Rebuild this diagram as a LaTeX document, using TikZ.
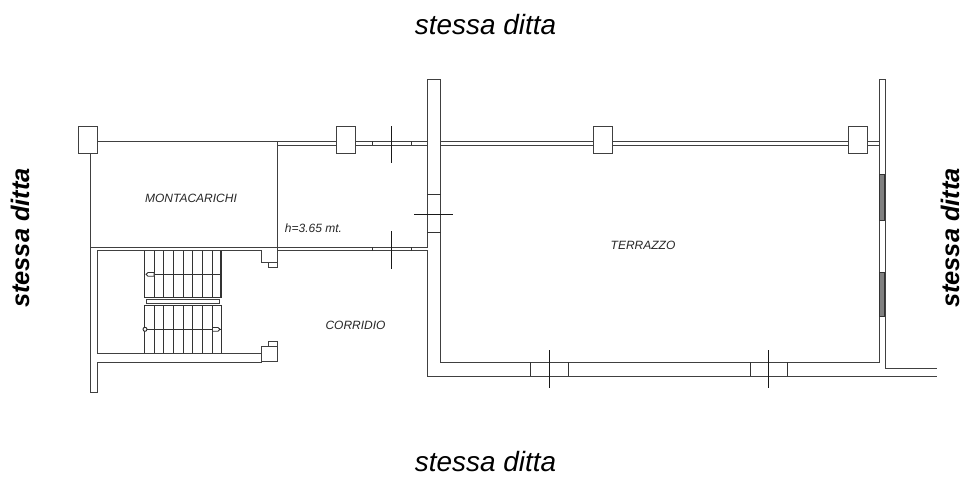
\documentclass[tikz,border=0pt]{standalone}
\usepackage{fontspec}
\setmainfont{Liberation Sans}
\begin{document}
\begin{tikzpicture}[x=1pt,y=-1pt,
  wall/.style={draw=black!75,line width=1pt,line cap=rect},
  thin wall/.style={draw=black!80,line width=0.9pt},
  cross/.style={draw=black!90,line width=1pt},
  pillar/.style={draw=black!75,line width=1pt,fill=white},
  glass/.style={draw=black!80,line width=0.9pt,fill=black!50},
  small/.style={font=\fontsize{12}{14}\selectfont\itshape,text=black!85,inner sep=0pt},
  big/.style={font=\fontsize{27.9}{32}\selectfont\itshape,text=black,inner sep=0pt},
  side/.style={font=\fontsize{25.4}{30}\selectfont\bfseries\itshape,text=black,inner sep=0pt,rotate=90}]
\useasboundingbox (0,0) rectangle (965,477);
% top double walls
\draw[wall] (90,141) -- (277,141);
\draw[wall] (277,141) -- (427,141) (277,145) -- (427,145);
\draw[wall] (441,141) -- (879,141) (441,145) -- (879,145);
% lift shaft
\draw[wall] (90,153) -- (90,392) -- (97.5,392) -- (97.5,362) -- (261,362);
\draw[wall] (277,141) -- (277,267);
\draw[wall] (90,247) -- (427,247);
\draw[wall] (97.5,353) -- (97.5,250.7) -- (261,250.7);
\draw[wall] (277,250.7) -- (427,250.7);
% upper stub
\draw[wall] (261,250.7) -- (261,262) -- (268.5,262) -- (268.5,267) -- (277,267);
% lower stub
\draw[wall] (97.5,353) -- (261,353);
\draw[wall] (261,361.5) -- (261,346) -- (268.5,346) -- (268.5,341) -- (277,341) -- (277,361.5) -- cycle;
\draw[wall] (268.5,346) -- (277,346);
\draw[wall] (261,262) -- (277,262);
% stairs
\foreach \s in {144.3,154,163.7,173.7,183.3,192.7,202.3,212,221.7}{
  \draw[thin wall] (\s,250.7) -- (\s,297.5);
  \draw[thin wall] (\s,305) -- (\s,353);
}
\draw[thin wall] (220.2,250.7) -- (220.2,297.5);
\draw[thin wall] (145,297.5) -- (221.7,297.5) (145,305) -- (221.7,305);
\draw[wall,fill=white] (146,299.2) rectangle (219.6,303.4);
\draw[thin wall] (146,274.3) -- (221,274.3);
\draw[thin wall,fill=white] (146,274.3) -- (148,272.5) -- (154,272.5) -- (154,276.2) -- (148,276.2) -- cycle;
\draw[thin wall] (145,329.3) -- (221,329.3);
\draw[thin wall,fill=white] (212.5,327.5) -- (218,327.5) -- (220,329.3) -- (218,331.2) -- (212.5,331.2) -- cycle;
\node[draw=black!85,line width=0.9pt,fill=white,circle,minimum size=4pt,inner sep=0pt] (pivot) at (145,329.3) {};
% door ticks and crosses on upper and lower corridor walls
\foreach \x in {372.5,411}{
  \draw[thin wall] (\x,141) -- (\x,145);
  \draw[thin wall] (\x,247) -- (\x,250.7);
}
\draw[cross] (391.5,126) -- (391.5,162.5);
\draw[cross] (391.5,231) -- (391.5,268.5);
% central column
\draw[wall] (427,79) -- (427,247);
\draw[wall] (427,250.7) -- (427,376);
\draw[wall] (427,79) -- (440.7,79) -- (440.7,362);
\draw[thin wall] (427,194.5) -- (440.7,194.5) (427,232) -- (440.7,232);
\draw[cross] (414,214) -- (452.7,214);
% south wall
\draw[wall] (440.7,362) -- (879,362);
\draw[wall] (427,376) -- (936,376);
\foreach \x in {530,568.5,750,787.7}{\draw[thin wall] (\x,362) -- (\x,376);}
\draw[cross] (549,350) -- (549,388);
\draw[cross] (768.5,350) -- (768.5,388);
% east wall
\draw[wall] (879,362) -- (879,79) -- (885.5,79) -- (885.5,368) -- (936,368);
\draw[glass] (879,174.3) rectangle (884.5,220);
\draw[glass] (879,272.5) rectangle (884.5,316.8);
% pillars
\node[pillar,minimum width=19pt,minimum height=27pt,inner sep=0pt] (p1) at (88,139.5) {};
\node[pillar,minimum width=18.5pt,minimum height=27pt,inner sep=0pt] (p2) at (346.2,139.5) {};
\node[pillar,minimum width=19pt,minimum height=27pt,inner sep=0pt] (p3) at (602.7,139.5) {};
\node[pillar,minimum width=19pt,minimum height=27pt,inner sep=0pt] (p4) at (857.7,139.5) {};
% labels
\node[small] (lm) at (191,198) {MONTACARICHI};
\node[small] (lh) at (313.5,228) {h=3.65 mt.};
\node[small] (lc) at (355.5,325) {CORRIDIO};
\node[small] (lt) at (643,245.5) {TERRAZZO};
\node[big] (tn) at (485.5,25) {stessa ditta};
\node[big] (ts) at (485.5,461.5) {stessa ditta};
\node[side] (tw) at (20,238) {stessa ditta};
\node[side] (te) at (950,238) {stessa ditta};
\end{tikzpicture}
\end{document}
